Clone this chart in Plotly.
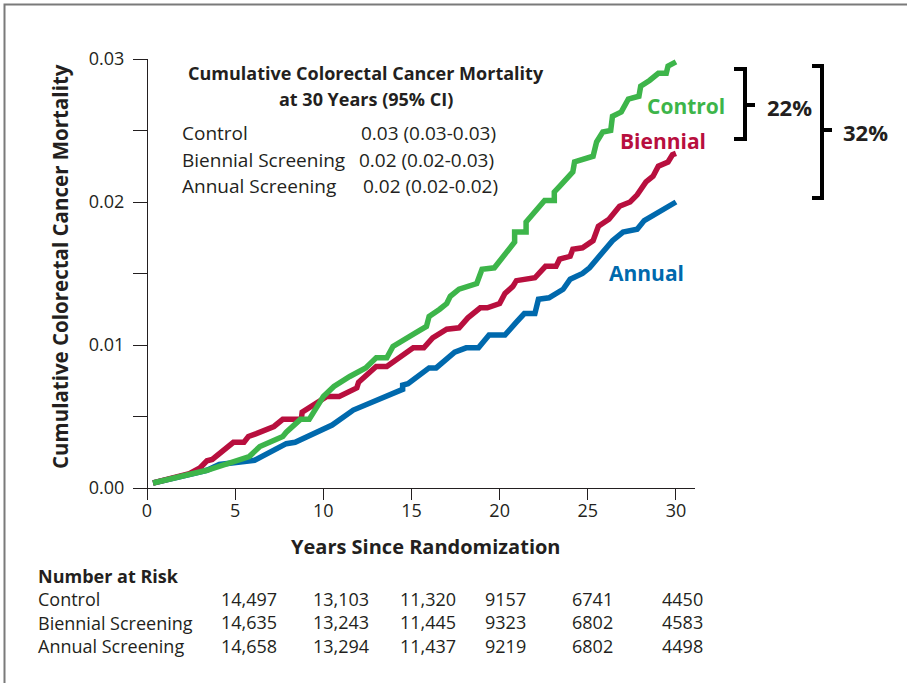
import plotly.graph_objects as go

# ---------------- data ----------------
years_ticks = [0, 5, 10, 15, 20, 25, 30]
y_tickvals = [0, 0.005, 0.01, 0.015, 0.02, 0.025, 0.03]
y_ticktext = ["0.00", "", "0.01", "", "0.02", "", "0.03"]

control_x = [0.34, 2.4, 3.4, 5.8, 6.4, 7.7, 7.9, 8.7, 9.2, 10.0, 10.6, 11.5, 12.4, 13.0, 13.6,
             13.95, 14.7, 15.3, 15.85, 16.0, 16.6, 17.0, 17.2, 17.7, 18.7, 19.0, 19.7, 20.85,
             20.85, 21.5, 21.5, 22.55, 23.1, 23.1, 23.4, 24.15, 24.25, 25.3, 25.5, 25.85, 26.3,
             26.4, 26.9, 27.3, 27.9, 28.0, 28.5, 29.0, 29.45, 29.55, 30.0]
control_y = [0.00035, 0.0010, 0.00124, 0.0022, 0.0029, 0.0036, 0.0039, 0.0048, 0.0048, 0.0064,
             0.0071, 0.0078, 0.0084, 0.0091, 0.0091, 0.0099, 0.0105, 0.0109, 0.0113, 0.0120,
             0.0125, 0.0129, 0.0134, 0.0139, 0.0143, 0.0153, 0.0154, 0.0172, 0.0179, 0.0179,
             0.0186, 0.0201, 0.0201, 0.0207, 0.0211, 0.0221, 0.0228, 0.0232, 0.0242, 0.0249,
             0.0250, 0.0260, 0.0263, 0.0272, 0.0274, 0.0281, 0.0285, 0.0290, 0.0290, 0.0295,
             0.0298]

biennial_x = [0.34, 2.4, 3.0, 3.4, 3.7, 4.9, 5.5, 5.75, 6.2, 7.2, 7.7, 8.75, 8.8, 10.2, 10.9,
              11.9, 12.0, 13.0, 13.6, 14.15, 15.1, 15.7, 16.2, 17.0, 17.7, 18.2, 18.9, 19.3,
              20.0, 20.3, 20.75, 20.95, 22.0, 22.6, 23.2, 23.4, 24.0, 24.15, 24.7, 25.3, 25.6,
              26.2, 26.8, 27.4, 27.8, 28.3, 28.7, 29.0, 29.55, 29.8, 30.0]
biennial_y = [0.00035, 0.0010, 0.0014, 0.0019, 0.0020, 0.0032, 0.0032, 0.0036, 0.0038, 0.0043,
              0.0048, 0.0048, 0.0053, 0.0064, 0.0064, 0.0070, 0.0074, 0.0085, 0.0085, 0.0090,
              0.0098, 0.0098, 0.0105, 0.0111, 0.0112, 0.0119, 0.0126, 0.0126, 0.0129, 0.0136,
              0.0141, 0.0145, 0.0147, 0.0155, 0.0155, 0.0160, 0.0162, 0.0167, 0.0168, 0.0173,
              0.0183, 0.0188, 0.0197, 0.0200, 0.0205, 0.0214, 0.0218, 0.0225, 0.0228, 0.0233,
              0.0234]

annual_x = [0.34, 3.4, 4.1, 6.1, 7.9, 8.4, 10.5, 11.7, 14.5, 14.5, 14.8, 15.5, 16.0, 16.4,
            17.45, 18.1, 18.8, 19.4, 20.3, 20.95, 21.4, 22.0, 22.2, 22.8, 23.6, 24.0, 24.7,
            25.1, 25.5, 25.85, 26.4, 27.0, 27.8, 28.2, 28.8, 29.35, 30.0]
annual_y = [0.00035, 0.00124, 0.00164, 0.00194, 0.0031, 0.0032, 0.0044, 0.00545, 0.0069,
            0.0072, 0.0073, 0.0079, 0.0084, 0.0084, 0.0095, 0.0098, 0.0098, 0.0107, 0.0107,
            0.0116, 0.0122, 0.0122, 0.0132, 0.0133, 0.0139, 0.0146, 0.0150, 0.0154, 0.0160,
            0.0166, 0.0173, 0.0179, 0.0181, 0.0187, 0.0191, 0.0195, 0.0200]

inset_groups = ["Control", "Biennial Screening", "Annual Screening"]
inset_values = ["0.03 (0.03-0.03)", "0.02 (0.02-0.03)", "0.02 (0.02-0.02)"]

risk_groups = ["Control", "Biennial Screening", "Annual Screening"]
risk_numbers = [
    ["14,497", "13,103", "11,320", "9157", "6741", "4450"],
    ["14,635", "13,243", "11,445", "9323", "6802", "4583"],
    ["14,658", "13,294", "11,437", "9219", "6802", "4498"],
]
reduction_labels = ["22%", "32%"]

# ---------------- style ----------------
GREEN = "#3db54a"
RED = "#b80f3e"
BLUE = "#0069ad"
INK = "#231f20"
FONT = "Open Sans"

W, H = 907, 683
ML, MR, MT, MB = 133, 212, 59, 195
PW, PH = W - ML - MR, H - MT - MB


def px(x):
    return (x - ML) / PW


def py(y):
    return (H - MB - y) / PH


fig = go.Figure()
for xs, ys, col in [(annual_x, annual_y, BLUE), (biennial_x, biennial_y, RED),
                    (control_x, control_y, GREEN)]:
    fig.add_trace(go.Scatter(x=xs, y=ys, mode="lines",
                             line=dict(color=col, width=5.5), showlegend=False,
                             hoverinfo="skip"))

annotations = []


def text(x, y, s, size=16, color=INK, bold=False, xanchor="left", **kw):
    if bold:
        s = "<b>" + s + "</b>"
    annotations.append(dict(x=px(x), y=py(y), xref="paper", yref="paper", text=s,
                            showarrow=False, xanchor=xanchor, yanchor="middle",
                            font=dict(family=FONT, size=size, color=color), **kw))


# y axis title
text(60, 267, "Cumulative Colorectal Cancer Mortality", size=20.5, bold=True,
     xanchor="center", textangle=-90)
# inset
text(366, 73, "Cumulative Colorectal Cancer Mortality", size=18, bold=True, xanchor="center")
text(366, 99, "at 30 Years (95% CI)", size=18, bold=True, xanchor="center")
for i, (g, v) in enumerate(zip(inset_groups, inset_values)):
    yy = 133 + i * 26.5
    text(180, yy, g, size=19)
    text([359, 357, 361][i], yy, v, size=19)
# curve labels
text(727, 106, "Control", size=21, color=GREEN, bold=True, xanchor="right")
text(708, 141, "Biennial", size=21, color=RED, bold=True, xanchor="right")
text(686, 273, "Annual", size=21, color=BLUE, bold=True, xanchor="right")
# brackets labels
text(765, 107, reduction_labels[0], size=22, bold=True)
text(841, 132, reduction_labels[1], size=22, bold=True)
# x title
text(426, 546, "Years Since Randomization", size=20, bold=True, xanchor="center")
# risk table: one multi-line text per column (line spacing 1.3 em)
TS = 18
rows_top = 576
text(36, rows_top + 1.5 * TS * 1.3, "<b>Number at Risk</b><br>" + "<br>".join(risk_groups),
     size=TS, align="left")
col_centers = [249, 341, 428, 505, 592, 682]
for c in range(6):
    col = "<br>".join(risk_numbers[r][c] for r in range(3))
    text(col_centers[c], rows_top + 2 * TS * 1.3, col, size=TS, xanchor="center",
         align="center")

shapes = []
# outer frame (left + top visible)
shapes.append(dict(type="rect", xref="paper", yref="paper", x0=px(4.5), y0=py(4.5),
                   x1=px(930), y1=py(710), line=dict(color="#7a7a7a", width=2)))


def bracket(xv, ytop, ybot, xl, xt, ym):
    pth = (f"M {px(xl)} {py(ytop)} L {px(xv)} {py(ytop)} L {px(xv)} {py(ybot)} "
           f"L {px(xl)} {py(ybot)} M {px(xv)} {py(ym)} L {px(xt)} {py(ym)}")
    shapes.append(dict(type="path", xref="paper", yref="paper", path=pth,
                       line=dict(color="black", width=4)))


bracket(745, 69, 139, 734, 755, 105)
bracket(822, 66, 198, 812, 832, 130)

fig.update_layout(
    width=W, height=H,
    margin=dict(l=ML, r=MR, t=MT, b=MB, pad=0),
    paper_bgcolor="white", plot_bgcolor="white",
    annotations=annotations, shapes=shapes,
    xaxis=dict(range=[-0.794, 31.08], tickvals=years_ticks, ticks="outside", ticklen=11,
               tickwidth=1.3, tickcolor=INK, showline=True, linecolor=INK, linewidth=1.3,
               showgrid=False, zeroline=False, ticklabelstandoff=-5,
               tickfont=dict(family=FONT, size=18, color=INK)),
    yaxis=dict(range=[0, 0.03], tickvals=y_tickvals, ticktext=y_ticktext,
               anchor="free", position=px(147), ticks="outside", ticklen=14,
               tickwidth=1.3, tickcolor=INK, showline=True, linecolor=INK, linewidth=1.3,
               showgrid=False, zeroline=False, ticklabelstandoff=5,
               tickfont=dict(family=FONT, size=18, color=INK)),
)

fig.write_html("out.html", config={"displayModeBar": False},
               post_script="document.body.style.margin='0';document.body.style.overflow='hidden';")
